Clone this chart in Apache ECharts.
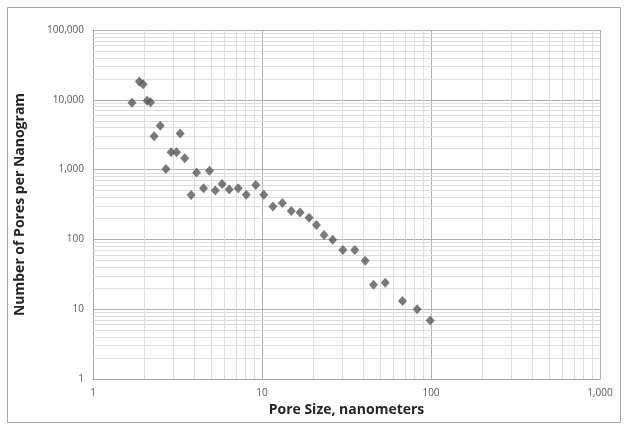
<!DOCTYPE html>
<html>
<head>
<meta charset="utf-8">
<script src="https://cdn.jsdelivr.net/npm/echarts@6/dist/echarts.min.js"></script>
<style>
html,body{margin:0;padding:0;background:#fff;}
#chart{width:624px;height:427px;}
</style>
</head>
<body>
<div id="chart"></div>
<script>
// Data
const poreSize = [1.70, 1.88, 1.98, 2.09, 2.19, 2.30, 2.50, 2.70, 2.90, 3.12, 3.28, 3.49, 3.81, 4.10, 4.51, 4.89, 5.29, 5.81, 6.40, 7.23, 8.07, 9.19, 10.25,
  11.6, 13.2, 14.9, 16.8, 19.0, 21.0, 23.3, 26.2, 30.1, 35.4, 40.8, 45.7, 53.6, 67.8, 82.8, 98.9];
const poreCount = [9060, 18300, 16700, 9680, 9240, 3006, 4240, 1023, 1771, 1771, 3280, 1452, 434, 906, 539, 960, 500, 624, 517, 539, 438, 604, 438,
  297, 332, 256, 242, 205, 161, 116, 99, 70.5, 70.5, 49.6, 22.4, 24, 13.1, 10.0, 6.9];
const xMinorTicks = [2,3,4,5,6,7,8,9,20,30,40,50,60,70,80,90,200,300,400,500,600,700,800,900];
const yMinorTicks = [2,3,4,5,6,7,8,9,20,30,40,50,60,70,80,90,200,300,400,500,600,700,800,900,
  2000,3000,4000,5000,6000,7000,8000,9000,20000,30000,40000,50000,60000,70000,80000,90000];
const xTitle = 'Pore Size, nanometers';
const yTitle = 'Number of Pores per Nanogram';

const points = poreSize.map((x, i) => [x, poreCount[i]]);
const fmt = v => Number(v).toLocaleString('en-US');
const minorData = xMinorTicks.map(v => ({xAxis: v})).concat(yMinorTicks.map(v => ({yAxis: v})));

const chart = echarts.init(document.getElementById('chart'), null, {renderer: 'canvas'});
chart.setOption({
  animation: false,
  backgroundColor: '#fff',
  graphic: [{
    type: 'rect', left: 5, top: 5, shape: {width: 613, height: 415},
    style: {fill: 'none', stroke: '#a6a6a6', lineWidth: 1}, silent: true, z: -1
  }],
  grid: {left: 93, top: 30, width: 507, height: 349, containLabel: false},
  xAxis: {
    type: 'log', logBase: 10, min: 1, max: 1000,
    name: xTitle, nameLocation: 'middle', nameGap: 22,
    nameTextStyle: {fontFamily: 'Open Sans', fontWeight: 'bold', fontSize: 14, color: '#262626'},
    axisLine: {show: true, lineStyle: {color: '#a6a6a6', width: 1}},
    axisTick: {show: false},
    axisLabel: {formatter: fmt, fontFamily: 'Open Sans', fontSize: 10, color: '#595959', margin: 9},
    splitLine: {show: true, lineStyle: {color: '#b0b0b0', width: 1}}
  },
  yAxis: {
    type: 'log', logBase: 10, min: 1, max: 100000,
    name: yTitle, nameLocation: 'middle', nameGap: 66, nameRotate: 90,
    nameTextStyle: {fontFamily: 'Open Sans', fontWeight: 'bold', fontSize: 14, color: '#262626'},
    axisLine: {show: true, lineStyle: {color: '#a6a6a6', width: 1}},
    axisTick: {show: false},
    axisLabel: {formatter: fmt, fontFamily: 'Open Sans', fontSize: 10, color: '#595959', margin: 9},
    splitLine: {show: true, lineStyle: {color: '#b0b0b0', width: 1}}
  },
  series: [{
    type: 'scatter', data: [], z: 1, silent: true,
    markLine: {
      z: 1, zlevel: 0,
      silent: true, symbol: ['none', 'none'], label: {show: false},
      lineStyle: {color: '#dedede', width: 1, type: 'solid'},
      emphasis: {disabled: true},
      data: minorData, animation: false
    }
  }, {
    type: 'scatter', data: points, z: 10,
    symbol: 'diamond', symbolSize: [9, 10],
    itemStyle: {color: '#595959'}
  }]
});
</script>
</body>
</html>
